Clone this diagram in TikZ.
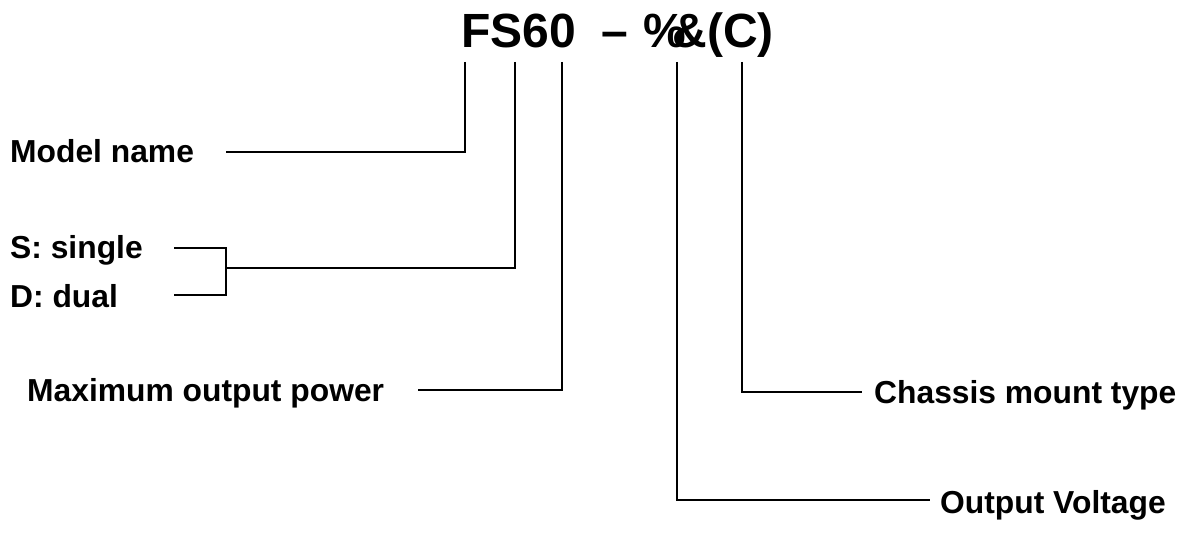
\documentclass[tikz,border=0pt]{standalone}
\usepackage{fontspec}
\setmainfont{Liberation Sans}
\begin{document}
\begin{tikzpicture}[x=1pt,y=-1pt,
  lbl/.style={font=\fontsize{31.8}{36}\selectfont\bfseries, inner sep=0pt, anchor=base west},
  ttl/.style={font=\fontsize{48}{54}\selectfont\bfseries, inner sep=0pt, anchor=base west},
  wire/.style={line width=1.8pt}]
\useasboundingbox (0,0) rectangle (1183,553);
% title
\node[ttl] (fs) at (461,48) {FS60};
\node[ttl] (dash) at (601,48) {–};
\node[ttl] (pct) at (643,48) {\%};
\node[ttl] (amp) at (672,48) {\&};
\node[ttl] (cc) at (707,48) {(C)};
% labels
\node[lbl] (model) at (10,163) {Model name};
\node[lbl] (single) at (10,259) {S: single};
\node[lbl] (dual) at (10,307) {D: dual};
\node[lbl] (maxp) at (27,401) {Maximum output power};
\node[lbl] (chassis) at (874,403) {Chassis mount type};
\node[lbl] (outv) at (940,513) {Output Voltage};
% tops of leads
\coordinate (tF) at (465,62);
\coordinate (tS) at (515,62);
\coordinate (t0) at (562,62);
\coordinate (tP) at (677,62);
\coordinate (tC) at (742,62);
% ends
\coordinate (eM) at (226,152);
\coordinate (bS1) at (174,248);
\coordinate (bS2) at (174,295);
\coordinate (bx) at (226,268);
\coordinate (eMax) at (418,390);
\coordinate (eC) at (862,392);
\coordinate (eV) at (930,500);
\draw[wire] (tF) |- (eM);
\draw[wire] (tS) |- (bx);
\draw[wire] (bS1) -| (bx) |- (bS2);
\draw[wire] (t0) |- (eMax);
\draw[wire] (tC) |- (eC);
\draw[wire] (tP) |- (eV);
\end{tikzpicture}
\end{document}
